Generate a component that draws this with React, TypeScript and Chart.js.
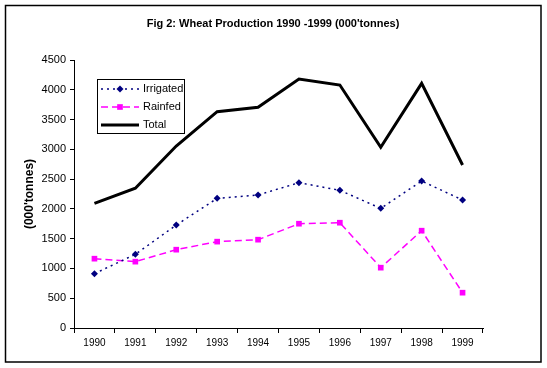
import React, { useEffect, useRef } from "react";
import { Chart, registerables } from "chart.js";

Chart.register(...registerables);

const years = ["1990", "1991", "1992", "1993", "1994", "1995", "1996", "1997", "1998", "1999"];
const irrigated = [912, 1237, 1729, 2177, 2233, 2440, 2312, 2009, 2468, 2149];
const rainfed = [1164, 1114, 1315, 1450, 1483, 1751, 1768, 1013, 1634, 593];
const total = [2094, 2346, 3056, 3632, 3705, 4181, 4080, 3034, 4108, 2737];
const titleText = "Fig 2: Wheat Production 1990 -1999 (000'tonnes)";
const yAxisTitle = "(000'tonnes)";

const FONT = "Arial, 'Liberation Sans', sans-serif";

const framePlugin = {
  id: "frame",
  afterDraw(chart: any) {
    const ctx = chart.ctx;
    ctx.save();
    ctx.strokeStyle = "#000";
    ctx.lineWidth = 1.5;
    ctx.strokeRect(5.5, 5.5, 535.5, 356.5);
    ctx.fillStyle = "#000";
    ctx.font = `bold 11px ${FONT}`;
    ctx.textAlign = "center";
    ctx.textBaseline = "middle";
    ctx.fillText(titleText, 273, 24);
    const bx = 97.5, by = 79.5, bw = 87, bh = 54;
    ctx.fillStyle = "#fff";
    ctx.fillRect(bx, by, bw, bh);
    ctx.lineWidth = 1;
    ctx.strokeStyle = "#000";
    ctx.strokeRect(bx, by, bw, bh);
    const rows = [89, 107, 125];
    const x0 = 101, x1 = 139, xm = 120;
    chart.data.datasets.forEach((ds: any, i: number) => {
      const y = rows[i];
      ctx.save();
      ctx.strokeStyle = ds.borderColor;
      ctx.lineWidth = ds.borderWidth;
      ctx.setLineDash(ds.borderDash || []);
      ctx.beginPath();
      ctx.moveTo(x0, y);
      ctx.lineTo(x1, y);
      ctx.stroke();
      ctx.restore();
      if (ds.pointRadius > 0) {
        ctx.save();
        ctx.fillStyle = ds.pointBackgroundColor;
        if (ds.pointStyle === "rect") {
          const s = ds.pointRadius * Math.SQRT1_2;
          ctx.fillRect(xm - s, y - s, 2 * s, 2 * s);
        } else {
          const r = ds.pointRadius;
          ctx.beginPath();
          ctx.moveTo(xm, y - r);
          ctx.lineTo(xm + r, y);
          ctx.lineTo(xm, y + r);
          ctx.lineTo(xm - r, y);
          ctx.closePath();
          ctx.fill();
        }
        ctx.restore();
      }
      ctx.fillStyle = "#000";
      ctx.font = `11px ${FONT}`;
      ctx.textAlign = "left";
      ctx.textBaseline = "middle";
      ctx.fillText(ds.label, 143, y);
    });
    ctx.restore();
  },
};

export default function App() {
  const ref = useRef<HTMLCanvasElement>(null);
  useEffect(() => {
    if (!ref.current) return;
    const chart = new Chart(ref.current, {
      type: "line",
      data: {
        labels: years,
        datasets: [
          {
            label: "Irrigated",
            data: irrigated,
            borderColor: "#000080",
            backgroundColor: "#000080",
            pointBackgroundColor: "#000080",
            pointBorderColor: "#000080",
            borderWidth: 1.5,
            borderDash: [2, 4],
            pointStyle: "rectRot",
            pointRadius: 3.5,
            pointBorderWidth: 0,
            tension: 0,
          },
          {
            label: "Rainfed",
            data: rainfed,
            borderColor: "#ff00ff",
            backgroundColor: "#ff00ff",
            pointBackgroundColor: "#ff00ff",
            pointBorderColor: "#ff00ff",
            borderWidth: 1.5,
            borderDash: [7, 4],
            pointStyle: "rect",
            pointRadius: 4,
            pointBorderWidth: 0,
            tension: 0,
          },
          {
            label: "Total",
            data: total,
            borderColor: "#000000",
            backgroundColor: "#000000",
            pointBackgroundColor: "#000000",
            pointBorderColor: "#000000",
            borderWidth: 3,
            pointRadius: 0,
            tension: 0,
          },
        ],
      } as any,
      options: {
        animation: false,
        responsive: false,
        devicePixelRatio: 1,
        layout: { padding: { left: 10, right: 64, top: 60, bottom: 0 } },
        plugins: {
          legend: { display: false },
          title: { display: false },
          tooltip: { enabled: false },
        },
        scales: {
          x: {
            type: "category",
            offset: true,
            grid: {
              display: true,
              drawOnChartArea: false,
              drawTicks: true,
              tickLength: 5,
              color: "#000",
              offset: true,
            },
            border: { display: true, color: "#000", width: 1 },
            ticks: {
              color: "#000",
              font: { family: FONT, size: 10 },
              padding: 4,
              maxRotation: 0,
              autoSkip: false,
            },
            afterFit(scale: any) {
              scale.height = 40;
            },
          },
          y: {
            min: 0,
            max: 4500,
            grid: {
              display: true,
              drawOnChartArea: false,
              drawTicks: true,
              tickLength: 4,
              color: "#000",
            },
            border: { display: true, color: "#000", width: 1 },
            ticks: {
              stepSize: 500,
              color: "#000",
              font: { family: FONT, size: 11 },
              padding: 4,
              callback: (v: any) => String(v),
            },
            title: {
              display: true,
              text: yAxisTitle,
              color: "#000",
              font: { family: FONT, size: 12, weight: "bold" },
              padding: { top: 12, bottom: 0 },
            },
            afterFit(scale: any) {
              scale.width = 64;
            },
          },
        },
      } as any,
      plugins: [framePlugin],
    });
    return () => chart.destroy();
  }, []);
  return (
    <div style={{ position: "absolute", left: 0, top: 0, width: 547, height: 368, background: "#fff" }}>
      <canvas ref={ref} width={547} height={368} style={{ display: "block", width: 547, height: 368 }} />
    </div>
  );
}
